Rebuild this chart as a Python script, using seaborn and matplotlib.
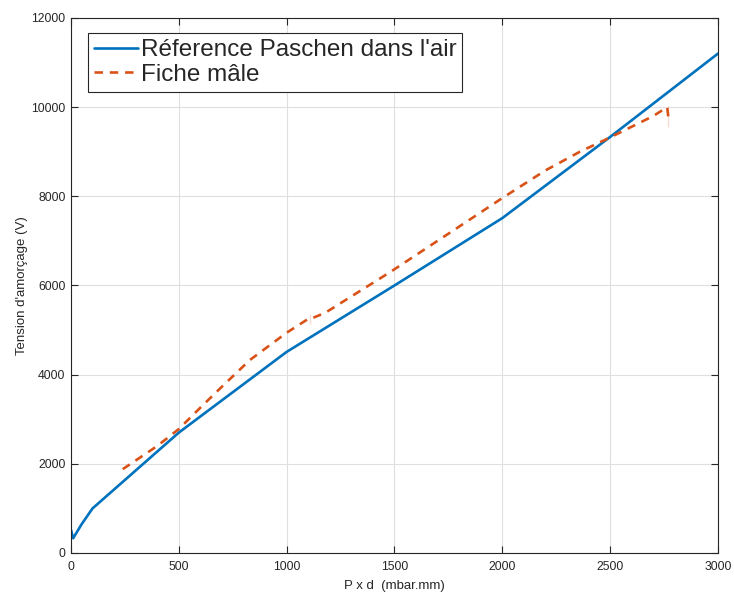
import numpy as np
import pandas as pd
import matplotlib
matplotlib.use("Agg")
import matplotlib.pyplot as plt
import seaborn as sns

# Reference Paschen curve in air
ref_x = [0, 10, 50, 100, 300, 500, 1000, 1500, 2000, 2500, 3000]
ref_y = [520, 330, 650, 1000, 1850, 2700, 4510, 6000, 7510, 9330, 11200]

# Fiche mâle measurements
fm_x = [240, 400, 500, 600, 700, 830, 1000, 1100, 1108, 1108, 1180, 1480, 1800, 2000, 2200, 2360, 2500, 2700, 2765, 2770, 2770]
fm_y = [1880, 2400, 2780, 3260, 3730, 4330, 4940, 5250, 5360, 5130, 5390, 6300, 7320, 7960, 8580, 9000, 9320, 9800, 10000, 10020, 9560]

sns.set_theme(style="whitegrid")
plt.rcParams['font.family'] = ['Liberation Sans', 'DejaVu Sans']

fig = plt.figure(figsize=(7.34, 5.92), dpi=100)
ax = fig.add_axes([0.0967, 0.0659, 0.978 - 0.0967, 0.9696 - 0.0659])

df_ref = pd.DataFrame({"x": ref_x, "y": ref_y})
df_fm = pd.DataFrame({"x": fm_x, "y": fm_y})

sns.lineplot(data=df_ref, x="x", y="y", ax=ax, color="#0072BD", linewidth=1.9,
             sort=False, label="Réference Paschen dans l'air")
sns.lineplot(data=df_fm, x="x", y="y", ax=ax, color="#D95319", linewidth=1.9,
             sort=False, label="Fiche mâle", dashes=False)
ax.lines[1].set_linestyle((0, (3.2, 2.6)))

ax.set_xlim(0, 3000)
ax.set_ylim(0, 12000)
ax.set_xticks(np.arange(0, 3001, 500))
ax.set_yticks(np.arange(0, 12001, 2000))
ax.tick_params(axis='both', labelsize=8.8, colors='#262626', direction='in', length=5,
               width=0.8, top=True, right=True, bottom=True, left=True)
ax.tick_params(axis='x', pad=6)
ax.tick_params(axis='y', pad=4)
ax.grid(True, color='#dfdfdf', linewidth=0.8)
for s in ax.spines.values():
    s.set_color('#262626')
    s.set_linewidth(0.8)
ax.set_facecolor('white')

ax.set_xlabel("P x d  (mbar.mm)", fontsize=9.5, color='#262626', labelpad=5)
ax.set_ylabel("Tension d'amorçage (V)", fontsize=9.5, color='#262626', labelpad=2)

leg = ax.legend(loc='upper left', bbox_to_anchor=(0.026, 0.972), bbox_transform=ax.transAxes,
                borderaxespad=0, fontsize=17.5,
                frameon=True, fancybox=False, handlelength=1.8, handletextpad=0.12,
                borderpad=0.25, labelspacing=0.1)
leg.get_frame().set_edgecolor('#262626')
leg.get_frame().set_linewidth(0.8)
leg.get_frame().set_alpha(1)

fig.savefig("out.png", dpi=100, facecolor='white')
